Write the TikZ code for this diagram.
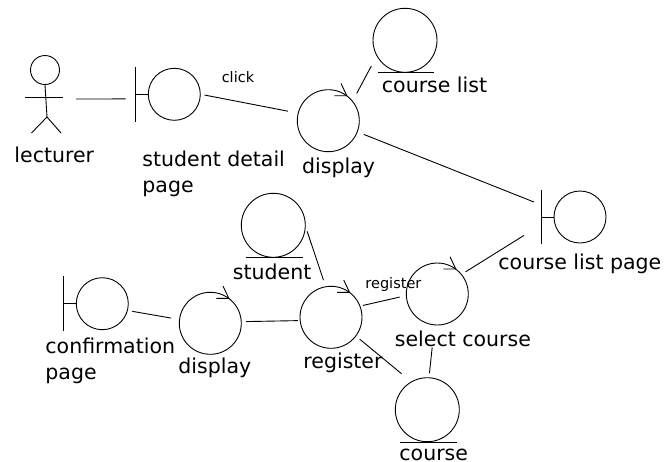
\documentclass[tikz,border=0pt]{standalone}
\usepackage{fontspec}
\setmainfont{DejaVu Sans}

\tikzset{
	boundaryObj/.style={draw, circle, inner sep=0, minimum size=52pt},
	controlObj/.style={draw, circle, inner sep=0, minimum size=62pt},
	entityObj/.style={draw, circle, inner sep=0, minimum size=64pt},
	bigLabel/.style={anchor=base west, inner sep=0, align=left, font=\fontsize{20.5}{25.9}\selectfont},
	smallLabel/.style={anchor=base west, inner sep=0, font=\fontsize{14.5}{17}\selectfont}
}

\begin{document}
\begin{tikzpicture}[x=1pt, y=-1pt, line width=0.9pt]
		\useasboundingbox (0,0) rectangle (664,461);
		%% The stick figure
		\node[draw, circle, inner sep=0, minimum size=29pt] (lecturerHead) at (45,70) {};
		\draw (lecturerHead.south) -- (47,117);
		\draw (25,97) -- (63,97);
		\draw (31.5,133) -- (47,117) -- (61,133);
		\coordinate (lecturerHand) at (76,99);
		%% The boundary, control and entity circles
		\node[boundaryObj] (studentPage) at (174.3,94.3) {};
		\node[boundaryObj] (courseListPage) at (580,217) {};
		\node[boundaryObj] (confirmPage) at (102.3,303.7) {};
		\node[controlObj] (displayTop) at (328.3,120.7) {};
		\node[controlObj] (selectCourse) at (437.3,294) {};
		\node[controlObj] (registerCtrl) at (331,317.3) {};
		\node[controlObj] (displayLow) at (210.3,323.3) {};
		\node[entityObj] (courseList) at (405,40.3) {};
		\node[entityObj] (studentEnt) at (273.3,225.3) {};
		\node[entityObj] (courseEnt) at (427.3,409.7) {};
		%% The bars, arrows and underlines that go with them
		\foreach \obj in {studentPage, courseListPage, confirmPage} {
			\draw ([shift={(-38.8,-27.3)}]\obj.center) -- ([shift={(-38.8,27.3)}]\obj.center);
			\draw ([shift={(-38.8,0)}]\obj.center) -- (\obj.west);
		}
		\foreach \obj in {displayTop, selectCourse, registerCtrl, displayLow} {
			\draw ([shift={(6,-25)}]\obj.center) -- ([shift={(18.5,-25)}]\obj.center) -- ([shift={(12.7,-37.3)}]\obj.center);
		}
		\foreach \obj in {courseList, studentEnt, courseEnt} {
			\draw ([shift={(-27.5,32.5)}]\obj.center) -- ([shift={(29.2,32.5)}]\obj.center);
		}
		%% The connectors
		\draw[shorten >=22.7pt] (lecturerHand) -- (studentPage.190);
		\draw[shorten <=3.7pt, shorten >=10pt] (studentPage.0) -- (displayTop.166);
		\draw[shorten <=8.4pt, shorten >=11.3pt] (displayTop.39.5) -- (courseList.209.6);
		\draw[shorten <=6.6pt, shorten >=22pt] (displayTop.-21.2) -- (courseListPage.165.4);
		\draw[shorten <=34.8pt, shorten >=4.6pt] (courseListPage.180) -- (selectCourse.39.9);
		\draw[shorten <=4.6pt, shorten >=6.5pt] (studentEnt.-3.7) -- (registerCtrl.100.4);
		\draw[shorten <=4.5pt, shorten >=8pt] (confirmPage.-15.2) -- (displayLow.173.3);
		\draw[shorten <=4.4pt, shorten >=1.9pt] (displayLow.3.7) -- (registerCtrl.186.9);
		\draw[shorten <=2.6pt, shorten >=6.4pt] (registerCtrl.21.8) -- (selectCourse.183.7);
		\draw[shorten <=4.7pt, shorten >=12.2pt] (registerCtrl.-37.5) -- (courseEnt.120.4);
		\draw[shorten <=22.3pt, shorten >=4pt] (selectCourse.-95.5) -- (courseEnt.87);
		%% The labels
		\node[bigLabel] (lecturerText) at (14,162.5) {lecturer};
		\node[bigLabel] (studentPageText) at (142,192) {student detail\\page};
		\node[bigLabel] (displayTopText) at (301.7,173) {display};
		\node[bigLabel] (courseListText) at (381.5,92.3) {course list};
		\node[bigLabel] (courseListPageText) at (498,269.5) {course list page};
		\node[bigLabel] (studentText) at (232.5,279) {student};
		\node[bigLabel] (confirmText) at (45,379) {confirmation\\page};
		\node[bigLabel] (displayLowText) at (178,373) {display};
		\node[bigLabel] (registerText) at (303,368.3) {register};
		\node[bigLabel] (selectText) at (394.5,346.5) {select course};
		\node[bigLabel] (courseText) at (399,460) {course};
		\node[smallLabel] (clickText) at (221.3,82.3) {click};
		\node[smallLabel] (registerSmall) at (365,288.5) {register};
	\end{tikzpicture}
\end{document}
